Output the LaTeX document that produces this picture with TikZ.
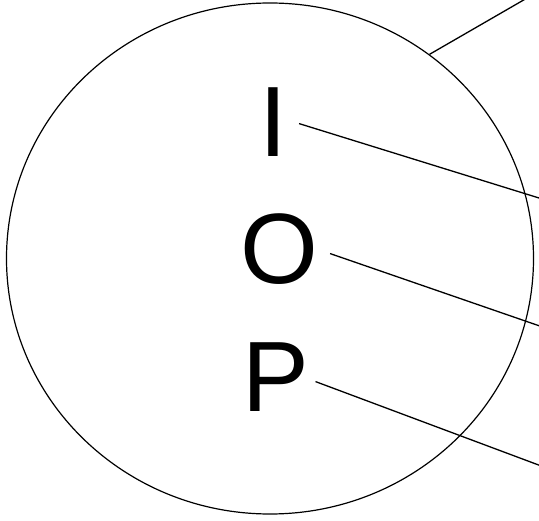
\documentclass[tikz,border=0pt]{standalone}
\usepackage{fontspec}
\setmainfont{Liberation Sans}
\usetikzlibrary{shapes.geometric}

\begin{document}
\begin{tikzpicture}[
  x=1pt, y=-1pt,
  ring/.style={draw, ellipse, line width=1.2pt, inner sep=0pt, minimum width=527pt, minimum height=511pt},
  letter/.style={font=\fontsize{100}{100}\selectfont, inner sep=0pt, anchor=base},
  lead/.style={line width=1.3pt}
]
\useasboundingbox (0,0) rectangle (539,521);
\node[ring] (iop) at (270,258.5) {};
\node[letter] (I) at (273,157) {I};
\node[letter] (O) at (279,284) {O};
\node[letter] (P) at (276,412) {P};
% free ends beyond the right edge
\coordinate (top) at (560,-21);
\coordinate (endI) at (560,204.5);
\coordinate (endO) at (560,333);
\coordinate (endP) at (560,473);
\draw[lead] (iop.52) -- (top);
\draw[lead] ([xshift=12pt,yshift=-1pt]I.east) -- (endI);
\draw[lead] ([xshift=12pt,yshift=-4pt]O.east) -- (endO);
\draw[lead] ([xshift=6pt,yshift=-4pt]P.east) -- (endP);
\end{tikzpicture}
\end{document}
